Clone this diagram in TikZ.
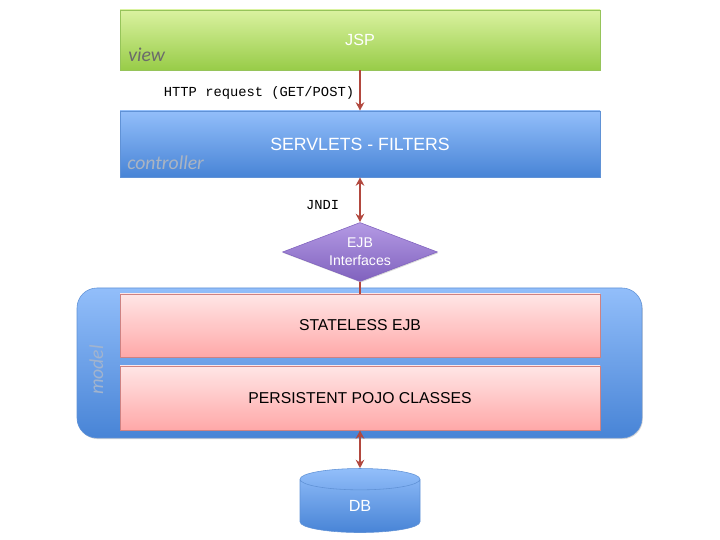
\documentclass[tikz,border=0pt]{standalone}
\usepackage{fontspec}
\setmainfont{Liberation Sans}
\setmonofont{Liberation Mono}
\newfontfamily\tagfont{Carlito}
\usetikzlibrary{shapes.geometric,arrows.meta,shadows}

\definecolor{greentop}{RGB}{218,242,160}
\definecolor{greenbot}{RGB}{152,204,72}
\definecolor{greenline}{RGB}{150,196,90}
\definecolor{bluetop}{RGB}{146,190,250}
\definecolor{bluebot}{RGB}{72,132,214}
\definecolor{blueline}{RGB}{96,146,214}
\definecolor{pinktop}{RGB}{255,230,230}
\definecolor{pinkbot}{RGB}{255,168,168}
\definecolor{pinkline}{RGB}{206,130,130}
\definecolor{violettop}{RGB}{180,154,228}
\definecolor{violetbot}{RGB}{128,98,190}
\definecolor{linkred}{RGB}{178,72,62}
\definecolor{ctrlgray}{RGB}{170,180,194}
\definecolor{modelgray}{RGB}{162,180,206}

\begin{document}
\begin{tikzpicture}[
        tierbox/.style={rectangle, minimum width=12cm, inner sep=0pt,
            drop shadow={shadow xshift=0.6pt, shadow yshift=-0.8pt, opacity=0.3}},
        bluebox/.style={tierbox, draw=blueline, top color=bluetop, bottom color=bluebot},
        ejbbox/.style={tierbox, draw=pinkline, top color=pinktop, bottom color=pinkbot,
            font=\fontsize{11.2}{13}\selectfont},
        tag/.style={font=\tagfont\itshape\fontsize{14}{16}\selectfont, inner sep=0pt},
        codelabel/.style={font=\ttfamily\fontsize{9.8}{11}\selectfont, inner sep=0pt, anchor=east},
        oneway/.style={draw=linkred, line width=1.3pt, -{Stealth[length=6pt,width=6pt]}},
        twoway/.style={draw=linkred, line width=1.3pt,
            {Stealth[length=6pt,width=6pt]}-{Stealth[length=6pt,width=6pt]}},
        wire/.style={draw=linkred, line width=1.3pt}
    ]
        \useasboundingbox (0,0) rectangle (18,13.5);

        % View layer
        \node[tierbox, minimum height=1.5cm, draw=greenline, top color=greentop,
            bottom color=greenbot, text=white, font=\fontsize{11.5}{13}\selectfont]
            (jsp) at (9,12.5) {JSP};
        \node[tag, text=black!58, anchor=base west] (viewtag) at (3.2,11.95) {view};

        % Controller layer
        \node[bluebox, minimum height=1.65cm, text=white,
            font=\fontsize{12.6}{15}\selectfont] (servlets) at (9,9.9) {SERVLETS - FILTERS};
        \node[tag, text=ctrlgray, anchor=base west] (ctrltag) at (3.175,9.25) {controller};

        % EJB interfaces
        \node[diamond, draw=violetbot, top color=violettop, bottom color=violetbot,
            minimum width=3.875cm, minimum height=1.475cm, aspect=2.6, inner sep=0pt,
            text=white, align=center, font=\fontsize{10}{12.8}\selectfont,
            drop shadow={shadow xshift=0.6pt, shadow yshift=-0.8pt, opacity=0.3}]
            (ejbif) at (9,7.2) {EJB\\Interfaces};

        % Model layer
        \node[rectangle, rounded corners=0.5cm, draw=blueline, top color=bluetop,
            bottom color=bluebot, minimum width=14.125cm, minimum height=3.75cm,
            drop shadow={shadow xshift=0.6pt, shadow yshift=-0.8pt, opacity=0.3}]
            (model) at (8.9875,4.425) {};
        \node[tag, text=modelgray, rotate=90] (modeltag) at (2.41,4.25) {model};
        \node[ejbbox, minimum height=1.575cm] (stateless) at (9,5.3625) {STATELESS EJB};
        \node[ejbbox, minimum height=1.6cm] (pojo) at (9,3.55) {PERSISTENT POJO CLASSES};

        % Database
        \node[cylinder, shape border rotate=90, aspect=0.95, draw=blueline,
            top color=bluetop, bottom color=bluebot, minimum width=3cm, minimum height=1.6cm,
            inner sep=0pt, text=white, font=\fontsize{11.5}{13}\selectfont]
            (db) at (9,0.85) {DB};

        % Connectors
        \draw[oneway] (jsp.south) -- node[codelabel, pos=0.56, xshift=-0.125cm]
            {HTTP request (GET/POST)} (servlets.north);
        \draw[twoway] (servlets.south) -- node[codelabel, pos=0.62, xshift=-0.5cm]
            {JNDI} (ejbif.north);
        \draw[wire] (ejbif.south) -- (stateless.north);
        \draw[twoway] (pojo.south) -- (db.north);

    \end{tikzpicture}
\end{document}
